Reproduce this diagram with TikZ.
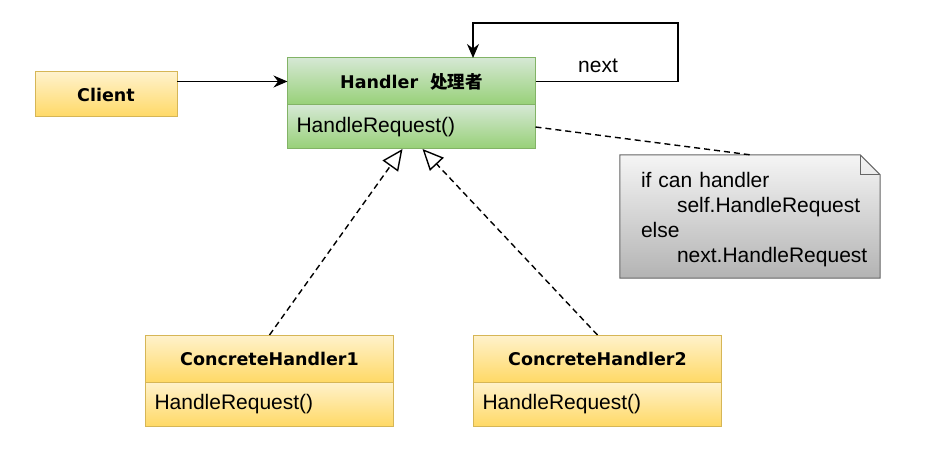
\documentclass[tikz,border=0pt]{standalone}
\usepackage{fontspec}
\setmainfont{Liberation Sans}
\newfontfamily\hdfont{DejaVu Sans}
\newfontfamily\cjk{Noto Sans CJK SC}
\usetikzlibrary{arrows.meta,positioning,calc,backgrounds}
\definecolor{ylwtop}{HTML}{FFF2CC}
\definecolor{ylwbot}{HTML}{FFD966}
\definecolor{ylwline}{HTML}{D6B656}
\definecolor{grntop}{HTML}{D5E8D4}
\definecolor{grnbot}{HTML}{97D077}
\definecolor{grnline}{HTML}{82B366}
\definecolor{notetop}{HTML}{F5F5F5}
\definecolor{notebot}{HTML}{B3B3B3}
\definecolor{noteline}{HTML}{666666}

\begin{document}
\begin{tikzpicture}[x=1pt,y=-1pt,>={Stealth[length=14pt,width=12pt]},
  txt/.style={font=\fontsize{21}{25}\selectfont},
  hdtxt/.style={font=\hdfont\bfseries\fontsize{17.5}{21}\selectfont},
  ylw/.style={draw=ylwline,top color=ylwtop,bottom color=ylwbot},
  grn/.style={draw=grnline,top color=grntop,bottom color=grnbot},
  head/.style={rectangle,line width=1pt,outer sep=0pt,minimum width=248,minimum height=47,inner sep=0pt,hdtxt},
  ops/.style={rectangle,line width=1pt,outer sep=0pt,minimum height=44,inner xsep=9pt,inner ysep=0pt,
    text width=230,align=left,txt},
  link/.style={line width=1.5pt},
  dashline/.style={line width=1.4pt,dash pattern=on 6pt off 4pt},
  realize/.style={dashline,-{Triangle[open,length=21pt,width=19pt]}}]
  \useasboundingbox (0,0) rectangle (943,457);

  % classes
  \node[head,ylw,minimum width=142,minimum height=45] (client) at (106,94.5) {Client};
  \node[head,grn] (handler) at (411.5,81.5) {Handler~~{\cjk\bfseries 处理者}};
  \node[ops,grn,below=0pt of handler] (handlerops) {HandleRequest()};
  \node[head,ylw] (ch1) at (269.5,358.5) {ConcreteHandler1};
  \node[ops,ylw,below=0pt of ch1] (ch1ops) {HandleRequest()};
  \node[head,ylw] (ch2) at (597.5,358.5) {ConcreteHandler2};
  \node[ops,ylw,below=0pt of ch2] (ch2ops) {HandleRequest()};

  % note
  \node[txt,text width=218,inner xsep=21,inner ysep=0pt,minimum height=123,align=left] (note) at (750,216.5)
    {\rule{0pt}{21.5pt}if can handler\\\hspace*{36pt}self.HandleRequest\\else\\\hspace*{36pt}next.HandleRequest};
  \begin{scope}[on background layer]
    \path[top color=notetop,bottom color=notebot,draw=noteline,line width=1pt]
      (note.north west) -- ($(note.north east)+(-20,0)$) -- ($(note.north east)+(0,20)$)
      -- (note.south east) -- (note.south west) -- cycle;
    \draw[noteline,line width=1pt] ($(note.north east)+(-20,0)$) -- ($(note.north east)+(-20,20)$)
      -- ($(note.north east)+(0,20)$);
  \end{scope}

  % links
  \draw[link,->] (handler.west -| client.east) -- (handler.west);
  \coordinate (loopcorner) at (678,23);
  \draw[link,->] (handler.east) -| (loopcorner) -| ($(handler.north)+(61.5,0)$);
  \node[txt] (nextlbl) at (598,66) {next};
  \draw[dashline] (handlerops.east) -- (note.north);
  \draw[realize] (ch1.north) -- ($(handlerops.south)+(-9,0)$);
  \draw[realize] (ch2.north) -- ($(handlerops.south)+(11,0)$);
\end{tikzpicture}
\end{document}
